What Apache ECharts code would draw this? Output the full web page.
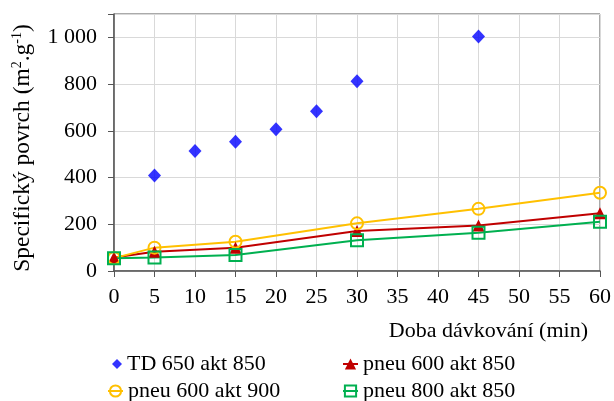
<!DOCTYPE html>
<html><head><meta charset="utf-8">
<script src="https://cdn.jsdelivr.net/npm/echarts@6/dist/echarts.min.js"></script>
<style>html,body{margin:0;padding:0;background:#fff}#c{width:614px;height:401px}</style>
</head><body><div id="c"></div>
<script>
var xTicks = [0,5,10,15,20,25,30,35,40,45,50,55,60];
var tdX = [5,10,15,20,25,30,45];
var tdY = [409,514,553,607,684,812,1004];
var pneuX = [0,5,15,30,45,60];
var p600a850 = [58,82,100,171,195,247];
var p600a900 = [55,100,125,204,266,335];
var p800a850 = [55,58,68,132,164,211];
var names = ['TD 650 akt 850','pneu 600 akt 850','pneu 600 akt 900','pneu 800 akt 850'];

var FF = 'Liberation Serif';
function pairs(xs, ys){ return xs.map(function(x,i){return [x, ys[i]];}); }
var chart = echarts.init(document.getElementById('c'), null, {renderer:'canvas'});
var legendText = {fontFamily:FF, fontSize:22, color:'#000'};
chart.setOption({
  animation:false,
  backgroundColor:'#fff',
  title:{text:'Doba dávkování (min)', right:21, top:315, textStyle:{fontFamily:FF, fontSize:22, fontWeight:'normal', color:'#000'}},
  graphic:[{type:'text', x:23, y:148, rotation:Math.PI/2, style:{
    text:'{a|Specifický povrch (m}{s|2}{a|.g}{s|-1}{a|)}', align:'center', verticalAlign:'middle',
    rich:{a:{fontFamily:FF, fontSize:23.5, fill:'#000'}, s:{fontFamily:FF, fontSize:14, fill:'#000', verticalAlign:'top', padding:[0,0,11,0]}}}}],
  grid:{left:114, right:13, top:14, bottom:130, show:true, borderColor:'#555', borderWidth:1},
  legend:[
    {data:[names[0]], left:107, top:348, itemWidth:10, itemHeight:10, textStyle:legendText},
    {data:[names[1]], left:337, top:348, itemWidth:15, itemHeight:14, textStyle:legendText},
    {data:[names[2]], left:102, top:375, itemWidth:15, itemHeight:14, textStyle:legendText},
    {data:[names[3]], left:337, top:375, itemWidth:15, itemHeight:14, textStyle:legendText}
  ],
  xAxis:{type:'value', min:0, max:60, interval:5,
    axisLine:{lineStyle:{color:'#555', width:1.5}},
    axisTick:{show:true, length:6, lineStyle:{color:'#555'}},
    axisLabel:{fontFamily:FF, fontSize:22, color:'#000', margin:15},
    splitLine:{show:true, lineStyle:{color:'#d9d9d9', width:1}}},
  yAxis:{type:'value', min:0, max:1100, interval:200,
    axisLine:{show:true, lineStyle:{color:'#555', width:1.5}},
    axisTick:{show:true, length:6, lineStyle:{color:'#555'}},
    axisLabel:{fontFamily:FF, fontSize:22, color:'#000', margin:17,
      formatter:function(v){ if (v > 1000) return ''; return v>=1000 ? (Math.floor(v/1000)+' '+String(v%1000).padStart(3,'0')) : String(v); }},
    splitLine:{show:true, lineStyle:{color:'#d9d9d9', width:1}}},
  series:[
    {name:names[0], type:'scatter', data:pairs(tdX,tdY), symbol:'diamond', symbolSize:[13,14], itemStyle:{color:'#0000ff'}, z:5},
    {name:names[1], type:'line', data:pairs(pneuX,p600a850), symbol:'triangle', symbolSize:12, color:'#c00000', lineStyle:{color:'#c00000', width:2}, itemStyle:{color:'#c00000'}},
    {name:names[2], type:'line', data:pairs(pneuX,p600a900), symbol:'circle', symbolSize:12, color:'#ffc000', lineStyle:{color:'#ffc000', width:2}, itemStyle:{color:'rgba(0,0,0,0)', borderColor:'#ffc000', borderWidth:2}},
    {name:names[3], type:'line', data:pairs(pneuX,p800a850), symbol:'rect', symbolSize:12, color:'#00b050', lineStyle:{color:'#00b050', width:2}, itemStyle:{color:'rgba(0,0,0,0)', borderColor:'#00b050', borderWidth:2}}
  ]
});
</script></body></html>
